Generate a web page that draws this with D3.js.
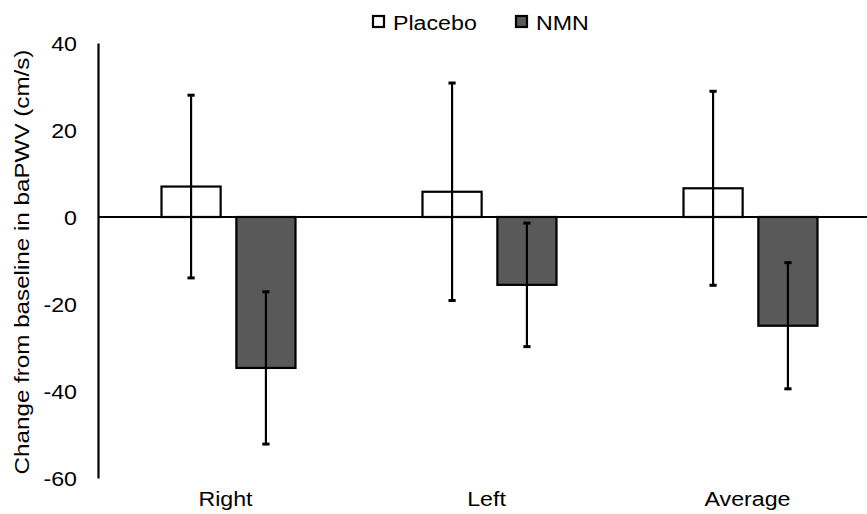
<!DOCTYPE html>
<html lang="en">
<head>
  <meta charset="UTF-8" />
  <title>baPWV change</title>
  <script src="https://d3js.org/d3.v7.min.js"></script>
  <style>
    body { margin: 0; padding: 0; background: #fff; }
    svg text { font-family: "Liberation Sans", Arial, sans-serif; fill: #000; font-size: 20px; }
  </style>
</head>
<body>
  <div id="chart"></div>

  <script>
    // data
    const categories = ["Right", "Left", "Average"];
    const seriesNames = ["Placebo", "NMN"];
    const placeboMean = [7.0, 5.8, 6.6];
    const placeboErr = [21.0, 25.0, 22.3];
    const nmnMean = [-34.7, -15.6, -25.0];
    const nmnErr = [17.5, 14.2, 14.5];
    const yTicks = [40, 20, 0, -20, -40, -60];

    const width = 867;
    const height = 514;
    const fills = { Placebo: "#ffffff", NMN: "#595959" };
    const stretch = 1.16; // the original font is a bit wider than Arial

    const svg = d3.select("#chart")
      .append("svg")
      .attr("width", width)
      .attr("height", height);

    const x = d3.scaleBand()
      .domain(categories)
      .range([98, 881]);

    const xInner = d3.scaleBand()
      .domain(seriesNames)
      .range([63.5, 261 - 63.5])
      .paddingInner(0.21);

    const y = d3.scaleLinear()
      .domain([-60, 40])
      .range([478, 43]);

    const rows = [];
    categories.forEach((c, i) => {
      rows.push({ cat: c, series: "Placebo", mean: placeboMean[i], err: placeboErr[i] });
      rows.push({ cat: c, series: "NMN", mean: nmnMean[i], err: nmnErr[i] });
    });

    // y axis (line only, no tick marks)
    const yAxis = d3.axisLeft(y)
      .tickValues(yTicks)
      .tickSize(0)
      .tickPadding(21)
      .tickFormat(d => String(d)); // plain hyphen minus
    const gy = svg.append("g")
      .attr("transform", "translate(98,0)")
      .call(yAxis);
    gy.select(".domain").attr("stroke", "#000").attr("stroke-width", 2.2);
    gy.selectAll(".tick text")
      .style("font-size", "20px")
      .attr("font-family", null)
      .attr("dy", "0.36em")
      .attr("transform", `translate(-21,0) scale(${stretch},1) translate(21,0)`);

    // bars
    svg.selectAll("rect.bar")
      .data(rows)
      .enter()
      .append("rect")
      .attr("class", "bar")
      .attr("x", d => x(d.cat) + xInner(d.series))
      .attr("y", d => y(Math.max(0, d.mean)))
      .attr("width", xInner.bandwidth())
      .attr("height", d => Math.abs(y(d.mean) - y(0)))
      .attr("fill", d => fills[d.series])
      .attr("stroke", "#000")
      .attr("stroke-width", 2.2);

    // zero line
    svg.append("line")
      .attr("x1", 98).attr("x2", width)
      .attr("y1", y(0)).attr("y2", y(0))
      .attr("stroke", "#000")
      .attr("stroke-width", 2.2);

    // error bars
    const eb = svg.selectAll("g.err")
      .data(rows)
      .enter()
      .append("g")
      .attr("class", "err")
      .attr("transform", d => `translate(${x(d.cat) + xInner(d.series) + xInner.bandwidth() / 2},0)`);

    eb.append("line")
      .attr("y1", d => y(d.mean + d.err))
      .attr("y2", d => y(d.mean - d.err))
      .attr("stroke", "#000").attr("stroke-width", 2.2);
    eb.append("line")
      .attr("x1", -3.6).attr("x2", 3.6)
      .attr("y1", d => y(d.mean + d.err)).attr("y2", d => y(d.mean + d.err))
      .attr("stroke", "#000").attr("stroke-width", 3);
    eb.append("line")
      .attr("x1", -3.6).attr("x2", 3.6)
      .attr("y1", d => y(d.mean - d.err)).attr("y2", d => y(d.mean - d.err))
      .attr("stroke", "#000").attr("stroke-width", 3);

    // category labels
    svg.selectAll("g.cat")
      .data(categories)
      .enter()
      .append("g")
      .attr("class", "cat")
      .attr("transform", d => `translate(${x(d) + x.bandwidth() / 2 - 3},506) scale(${stretch},1)`)
      .append("text")
      .attr("text-anchor", "middle")
      .text(d => d);

    // y axis title
    svg.append("g")
      .attr("transform", `translate(29,262) rotate(-90) scale(${stretch + 0.05},1)`)
      .append("text")
      .attr("text-anchor", "middle")
      .text("Change from baseline in baPWV (cm/s)");

    // legend
    const legendX = [373, 516];
    const legend = svg.selectAll("g.legend")
      .data(seriesNames)
      .enter()
      .append("g")
      .attr("class", "legend")
      .attr("transform", (d, i) => `translate(${legendX[i]},16)`);
    legend.append("rect")
      .attr("width", 11).attr("height", 11)
      .attr("fill", d => fills[d])
      .attr("stroke", "#000").attr("stroke-width", 2.2);
    legend.append("g")
      .attr("transform", `translate(20,13.5) scale(${stretch},1)`)
      .append("text")
      .text(d => d);
  </script>
</body>
</html>
